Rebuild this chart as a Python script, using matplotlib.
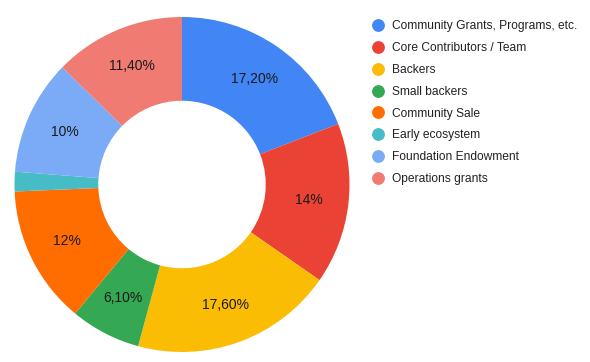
import matplotlib
matplotlib.use("Agg")
import matplotlib.pyplot as plt
from matplotlib.lines import Line2D

categories = ["Community Grants, Programs, etc.", "Core Contributors / Team", "Backers",
              "Small backers", "Community Sale", "Early ecosystem",
              "Foundation Endowment", "Operations grants"]
values = [17.2, 14, 17.6, 6.1, 12, 1.7, 10, 11.4]
value_labels = ["17,20%", "14%", "17,60%", "6,10%", "12%", "", "10%", "11,40%"]
colors = ["#4285F4", "#EA4335", "#FBBC04", "#34A853", "#FF6D01", "#46BDC6", "#7BAAF7", "#F07B72"]

plt.rcParams['font.family'] = ['Liberation Sans', 'DejaVu Sans']

W, H = 590, 362
fig = plt.figure(figsize=(W / 100, H / 100), dpi=100)
cx, cy, R = 182, 184.5, 167.5
ax = fig.add_axes([(cx - R) / W, (H - cy - R) / H, 2 * R / W, 2 * R / H])

lab_iter = iter(value_labels)
wedges, texts, autotexts = ax.pie(
    values, colors=colors, startangle=90, counterclock=False, radius=1.0,
    wedgeprops=dict(width=0.5, edgecolor='none', linewidth=0),
    autopct=lambda p: next(lab_iter), pctdistance=0.765,
    textprops=dict(fontsize=10, color='#1a1a1a'))
ax.set_xlim(-1, 1)
ax.set_ylim(-1, 1)
ax.set_aspect('equal')
ax.axis('off')
for w in wedges:
    w.set_clip_on(False)

handles = [Line2D([], [], marker='o', linestyle='none', markersize=8.2,
                  markerfacecolor=c, markeredgecolor=c) for c in colors]
fig.legend(handles, categories, loc='upper left', bbox_to_anchor=(370.7 / W, 1 - 20.5 / H),
           frameon=False, fontsize=8.65, labelspacing=0.815, handletextpad=0.56,
           handlelength=1.2, borderaxespad=0, borderpad=0, labelcolor='#222222')

fig.savefig("out.png", dpi=100, facecolor='white')
